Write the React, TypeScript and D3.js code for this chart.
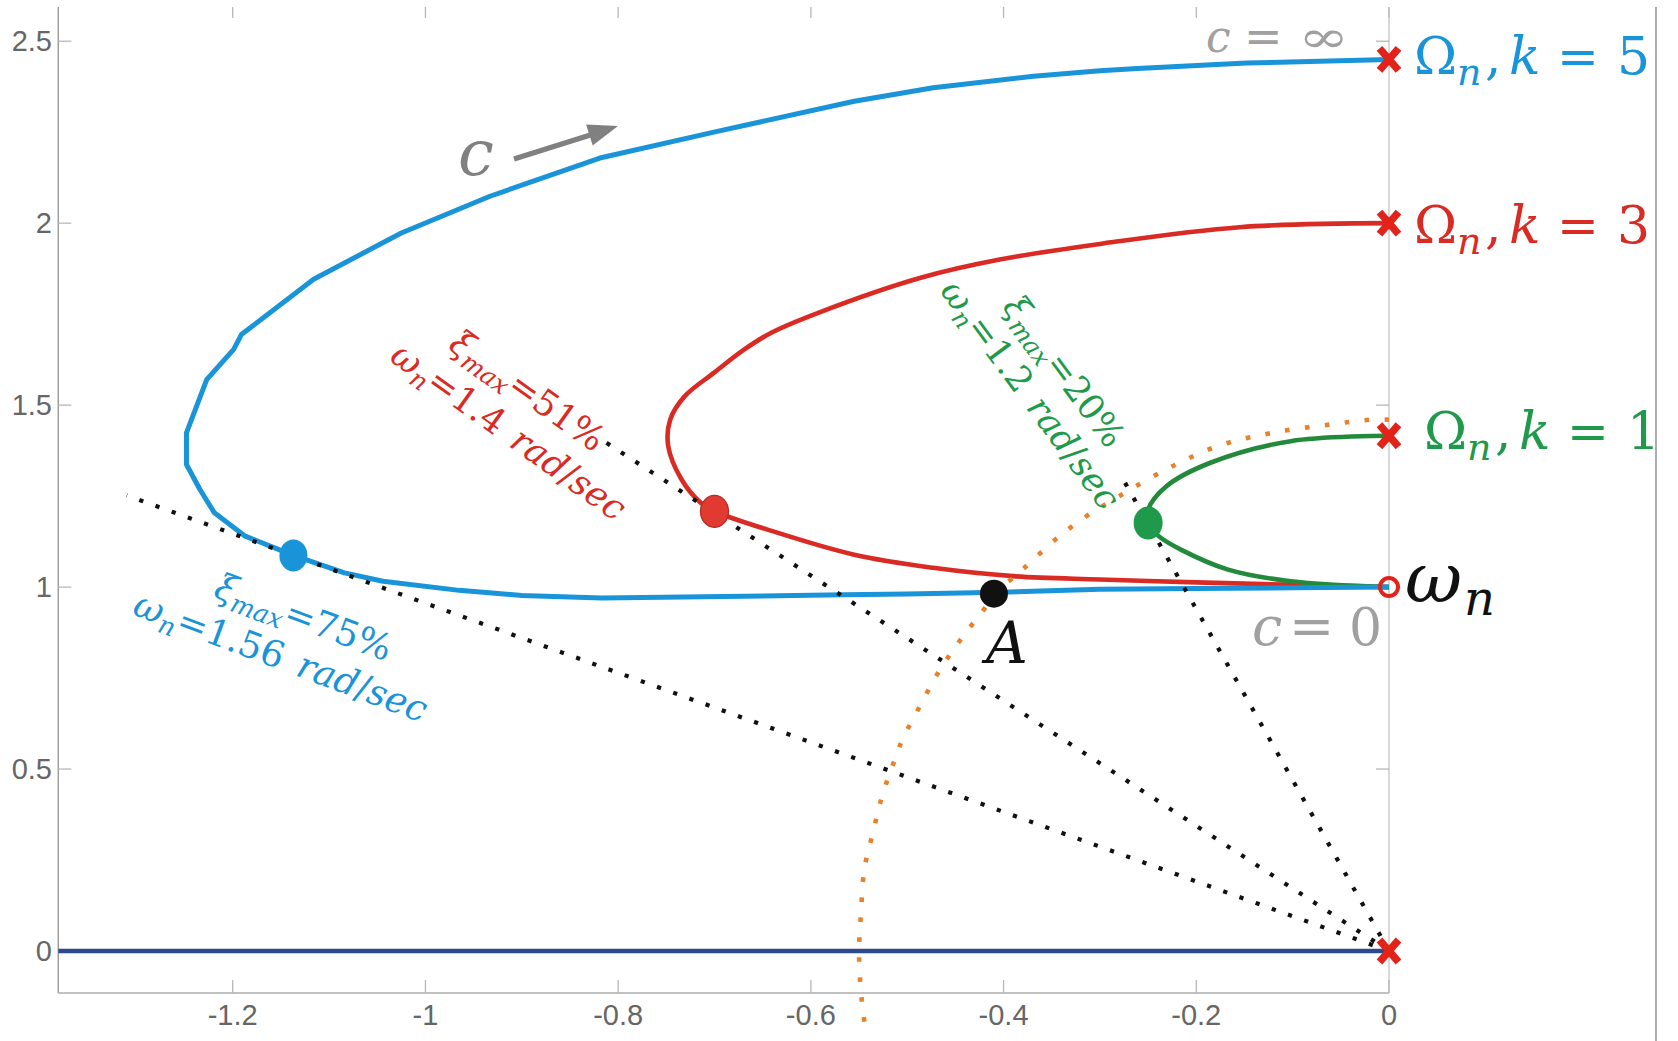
import React from "react";
import * as d3 from "d3";

type P = [number, number];

// ---------- data ----------
const xTickValues = [-1.2, -1, -0.8, -0.6, -0.4, -0.2, 0];
const xTickLabels = ["-1.2", "-1", "-0.8", "-0.6", "-0.4", "-0.2", "0"];
const yTickValues = [0, 0.5, 1, 1.5, 2, 2.5];
const yTickLabels = ["0", "0.5", "1", "1.5", "2", "2.5"];

const locusK5: P[] = [
  [0, 1.0], [-0.1, 0.998], [-0.2, 0.996], [-0.3, 0.994], [-0.404, 0.986], [-0.5, 0.981],
  [-0.566, 0.979], [-0.669, 0.975], [-0.817, 0.97], [-0.9, 0.977], [-0.965, 0.991],
  [-1.044, 1.016], [-1.084, 1.039], [-1.137, 1.087], [-1.187, 1.14], [-1.219, 1.204],
  [-1.234, 1.268], [-1.248, 1.337], [-1.248, 1.424], [-1.227, 1.57], [-1.199, 1.653],
  [-1.191, 1.694], [-1.116, 1.846], [-1.025, 1.973], [-0.933, 2.074], [-0.819, 2.179],
  [-0.696, 2.253], [-0.555, 2.335], [-0.473, 2.372], [-0.369, 2.404], [-0.3, 2.419],
  [-0.261, 2.425], [-0.148, 2.44], [0, 2.45],
];
const locusK3: P[] = [
  [0, 1.0], [-0.11, 1.007], [-0.2, 1.013], [-0.3, 1.021], [-0.39, 1.03], [-0.473, 1.053],
  [-0.555, 1.089], [-0.645, 1.158], [-0.7, 1.208], [-0.714, 1.231], [-0.734, 1.295],
  [-0.748, 1.387], [-0.746, 1.46], [-0.731, 1.524], [-0.7, 1.59], [-0.669, 1.653],
  [-0.641, 1.699], [-0.593, 1.753], [-0.486, 1.85], [-0.404, 1.9], [-0.3, 1.943],
  [-0.155, 1.989], [0, 2.0],
];
const locusK1: P[] = [
  [0, 1.0], [-0.102, 1.016], [-0.167, 1.048], [-0.216, 1.103], [-0.239, 1.14],
  [-0.25, 1.176], [-0.25, 1.213], [-0.231, 1.277], [-0.186, 1.341], [-0.102, 1.401], [0, 1.416],
];
const constantWnArc: P[] = [
  [0, 1.46], [-0.019, 1.46], [-0.06, 1.447], [-0.121, 1.424], [-0.178, 1.387], [-0.235, 1.318],
  [-0.292, 1.231], [-0.309, 1.204], [-0.342, 1.14], [-0.373, 1.066], [-0.388, 1.03],
  [-0.41, 0.982], [-0.418, 0.947], [-0.442, 0.865], [-0.466, 0.773], [-0.486, 0.677],
  [-0.505, 0.581], [-0.512, 0.532], [-0.519, 0.482], [-0.526, 0.426], [-0.531, 0.376],
  [-0.536, 0.32], [-0.541, 0.27], [-0.545, 0.215], [-0.548, 0.104], [-0.55, 0],
  [-0.548, -0.112], [-0.543, -0.223],
];
const realAxisLocus: P[] = [[-1.381, 0], [0, 0]];
const polesImag = [2.45, 2.0, 1.416, 0];
const omegaNZero: P = [0, 1];
const maxDampingPoints: P[] = [[-1.137, 1.087], [-0.7, 1.208], [-0.25, 1.176]];
const pointA: P = [-0.41, 0.982];
const dampingRayEnds: P[] = [[-1.31, 1.252], [-0.82, 1.41], [-0.28, 1.315]];

// ---------- styles ----------
const BLUE = "#1a94d8";
const RED = "#d92b24";
const GREEN = "#238a3b";
const GREEN_TXT = "#1f9a4a";
const NAVY = "#2e4a8e";
const ORANGE = "#e8822a";
const XRED = "#e2231a";
const SERIF = "'DejaVu Serif', 'Liberation Serif', 'Times New Roman', serif";
const SANS = "'Liberation Sans', Arial, sans-serif";

function RotLabel(props: {
  x: number; y: number; angle: number; color: string; fs: number;
  l1dx: number; l1up: number; xi: string; wn: string;
}) {
  const { x, y, angle, color, fs, l1dx, l1up, xi, wn } = props;
  const sub = fs * 0.7;
  const sdy = fs * 0.2;
  return (
    <g transform={`translate(${x},${y}) rotate(${angle})`} fill={color} style={{ fontFamily: SERIF, fontSize: fs }}>
      <text x={l1dx} y={-l1up}>
        <tspan style={{ fontStyle: "italic" }}>ξ</tspan>
        <tspan style={{ fontStyle: "italic", fontSize: sub }} dy={sdy}>max</tspan>
        <tspan dy={-sdy}>={xi}%</tspan>
      </text>
      <text x={0} y={0}>
        <tspan style={{ fontStyle: "italic" }}>ω</tspan>
        <tspan style={{ fontStyle: "italic", fontSize: sub }} dy={sdy}>n</tspan>
        <tspan dy={-sdy}>={wn}</tspan>
        <tspan style={{ fontStyle: "italic" }} dx={fs * 0.45}>rad</tspan>
        <tspan>/</tspan>
        <tspan style={{ fontStyle: "italic" }}>sec</tspan>
      </text>
    </g>
  );
}

function OmegaLabel(props: { x: number; y: number; color: string; k: string }) {
  const { x, y, color, k } = props;
  const it = { fontFamily: SERIF, fontStyle: "italic" as const };
  const up = { fontFamily: SERIF };
  return (
    <g fill={color}>
      <text x={x} y={y} style={{ ...up, fontSize: 52 }}>Ω</text>
      <text x={x + 43} y={y + 11} style={{ ...it, fontSize: 38 }}>n</text>
      <text x={x + 71} y={y} style={{ ...up, fontSize: 52 }}>,</text>
      <text x={x + 95} y={y} style={{ ...it, fontSize: 52 }}>k</text>
      <text x={x + 143} y={y} style={{ ...up, fontSize: 50 }}>=</text>
      <text x={x + 203} y={y} style={{ ...up, fontSize: 52 }}>{k}</text>
    </g>
  );
}

export default function App() {
  const W = 1678;
  const H = 1041;
  const x = d3.scaleLinear().domain([-1.381, 0]).range([58.3, 1389]);
  const y = d3.scaleLinear().domain([-0.1154, 2.594]).range([993, 7]);
  const smooth = d3.line<P>().x((d) => x(d[0])).y((d) => y(d[1])).curve(d3.curveCatmullRom.alpha(0.5));
  const straight = d3.line<P>().x((d) => x(d[0])).y((d) => y(d[1]));
  const x0 = x(0);
  const yTop = 7;
  const yBot = 993;
  const xLeft = x(-1.381);
  const tickCol = "#b8b8b8";
  const it = { fontFamily: SERIF, fontStyle: "italic" as const };
  const up = { fontFamily: SERIF };

  return (
    <svg width={W} height={H} style={{ position: "absolute", left: 0, top: 0, background: "#fff" }}>
      <rect x={0} y={0} width={W} height={H} fill="#fff" />
      {/* frame */}
      <line x1={xLeft} y1={yTop} x2={xLeft} y2={yBot} stroke="#9a9a9a" strokeWidth={1.4} />
      <line x1={xLeft} y1={yBot} x2={x0} y2={yBot} stroke="#adadad" strokeWidth={1.4} />
      <line x1={x0} y1={yTop} x2={x0} y2={yBot} stroke="#c4c4c4" strokeWidth={1.3} />
      <line x1={1656} y1={yTop} x2={1656} y2={H} stroke="#808080" strokeWidth={1.3} />
      {xTickValues.map((v, i) => (
        <g key={"xt" + i}>
          <line x1={x(v)} x2={x(v)} y1={yBot} y2={yBot - 13} stroke={tickCol} strokeWidth={1.3} />
          <line x1={x(v)} x2={x(v)} y1={yTop} y2={yTop + 11} stroke={tickCol} strokeWidth={1.3} />
          <text x={x(v)} y={yBot + 32} textAnchor="middle" style={{ fontFamily: SANS, fontSize: 29 }} fill="#666">
            {xTickLabels[i]}
          </text>
        </g>
      ))}
      {yTickValues.map((v, i) => (
        <g key={"yt" + i}>
          <line x1={xLeft} x2={xLeft + 13} y1={y(v)} y2={y(v)} stroke={tickCol} strokeWidth={1.3} />
          <line x1={x0} x2={x0 - 13} y1={y(v)} y2={y(v)} stroke={tickCol} strokeWidth={1.3} />
          <text x={52} y={y(v) + 10} textAnchor="end" style={{ fontFamily: SANS, fontSize: 29 }} fill="#666">
            {yTickLabels[i]}
          </text>
        </g>
      ))}

      {/* real-axis locus */}
      <path d={straight(realAxisLocus) || ""} stroke={NAVY} strokeWidth={4.5} fill="none" />

      {/* loci */}
      <path d={smooth(locusK3) || ""} stroke={RED} strokeWidth={4.6} fill="none" strokeLinejoin="round" />
      <path d={smooth(locusK1) || ""} stroke={GREEN} strokeWidth={4.6} fill="none" strokeLinejoin="round" />
      <path d={straight(locusK5) || ""} stroke={BLUE} strokeWidth={5} fill="none" strokeLinejoin="round" />

      {/* constant natural frequency arc */}
      <path d={smooth(constantWnArc) || ""} stroke={ORANGE} strokeWidth={4.6} fill="none" strokeDasharray="4.6 15.4" />

      {/* damping rays */}
      {dampingRayEnds.map((e, i) => (
        <path key={"ray" + i} d={straight([[0, 0], e]) || ""} stroke="#111" strokeWidth={4.2} fill="none" strokeDasharray="4.2 13" />
      ))}

      {/* poles (x) */}
      {polesImag.map((v, i) => (
        <g key={"pole" + i} transform={`translate(${x0},${y(v)})`} stroke={XRED} strokeWidth={7.5}>
          <line x1={-9.5} y1={-11} x2={9.5} y2={11} />
          <line x1={9.5} y1={-11} x2={-9.5} y2={11} />
        </g>
      ))}
      <circle cx={x(omegaNZero[0])} cy={y(omegaNZero[1])} r={9} fill="none" stroke={XRED} strokeWidth={4} />

      {/* max damping points */}
      <ellipse cx={x(maxDampingPoints[0][0])} cy={y(maxDampingPoints[0][1])} rx={14} ry={16} fill={BLUE} />
      <ellipse cx={x(maxDampingPoints[1][0])} cy={y(maxDampingPoints[1][1])} rx={14} ry={16} fill="#e03a33" stroke="#b52a22" strokeWidth={1.2} />
      <ellipse cx={x(maxDampingPoints[2][0])} cy={y(maxDampingPoints[2][1])} rx={14.5} ry={16.5} fill={GREEN_TXT} />
      <circle cx={x(pointA[0])} cy={y(pointA[1])} r={14} fill="#111" />

      {/* labels */}
      <OmegaLabel x={1414} y={74} color={BLUE} k="5" />
      <OmegaLabel x={1414} y={243} color={RED} k="3" />
      <OmegaLabel x={1424} y={449} color={GREEN_TXT} k="1" />

      <g fill="#111">
        <text x={1405} y={602} style={{ ...it, fontSize: 70 }}>ω</text>
        <text x={1464} y={615} style={{ ...it, fontSize: 48 }}>n</text>
        <text x={986} y={663} style={{ ...it, fontSize: 58 }}>A</text>
      </g>

      <g fill="#a0a0a0">
        <text x={1206} y={52} style={{ ...it, fontSize: 44 }}>c</text>
        <text x={1244} y={52} style={{ ...up, fontSize: 46 }}>=</text>
        <text transform="translate(1298,52) scale(1.4,1)" x={0} y={0} style={{ ...up, fontSize: 44 }}>∞</text>
        <text x={1252} y={645} style={{ ...it, fontSize: 54 }}>c</text>
        <text x={1289} y={645} style={{ ...up, fontSize: 54 }}>=</text>
        <text x={1349} y={645} style={{ ...up, fontSize: 52 }}>0</text>
      </g>

      {/* c arrow */}
      <text x={458} y={175} fill="#808080" style={{ ...it, fontSize: 64 }}>c</text>
      <line x1={514} y1={159} x2={592} y2={134.5} stroke="#808080" strokeWidth={5.5} />
      <polygon points="618,126 592.7,145.6 586.1,124.6" fill="#808080" />

      {/* rotated damping annotations */}
      <RotLabel x={131} y={614} angle={20.5} color={BLUE} fs={36.5} l1dx={70} l1up={45} xi="75" wn="1.56" />
      <RotLabel x={388} y={360} angle={35.5} color={RED} fs={35.5} l1dx={41} l1up={44} xi="51" wn="1.4" />
      <RotLabel x={939} y={291} angle={53.5} color={GREEN_TXT} fs={35} l1dx={50} l1up={41} xi="20" wn="1.2" />
    </svg>
  );
}
